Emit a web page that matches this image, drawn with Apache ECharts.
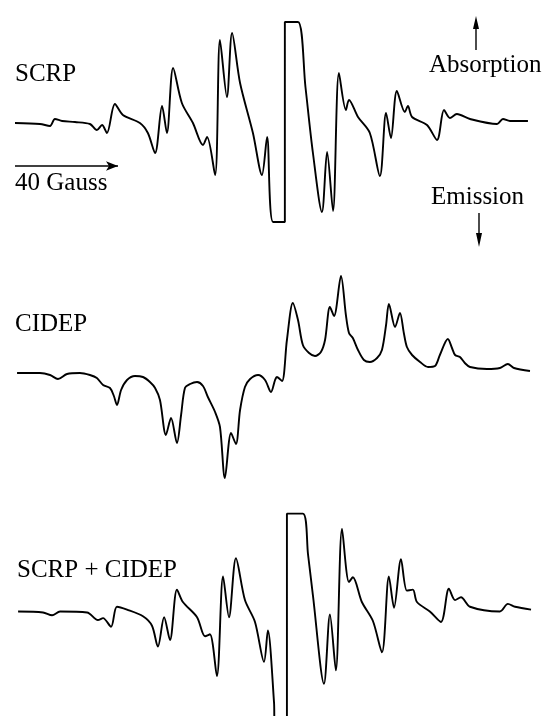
<!DOCTYPE html>
<html>
<head>
<meta charset="utf-8">
<script src="https://cdn.jsdelivr.net/npm/echarts@6/dist/echarts.min.js"></script>
<style>
  html, body { margin: 0; padding: 0; background: #fff; }
  #chart { width: 545px; height: 716px; }
</style>
</head>
<body>
<div id="chart"></div>
<script>
// field in Gauss, intensity in arbitrary units (positive = absorption)
const scrpField = [0, 9.7, 13.6, 15.5, 18.3, 23.3, 29.1, 31.8, 33.8, 35.7, 38.8, 41.9, 48.5, 51.6, 54.4, 57.1, 59.0, 61.4, 64.8, 69.1, 73.0, 74.6, 77.7, 79.6, 82.3, 84.3, 87.4, 92.4, 95.9, 97.9, 100.2, 104.8, 104.8, 109.9, 112.8, 115.7, 119.2, 121.2, 123.5, 125.8, 128.5, 129.7, 133.2, 137.8, 141.7, 144.1, 146.0, 148.3, 151.4, 152.6, 154.2, 160.0, 163.9, 166.6, 168.9, 171.6, 176.7, 187.2, 189.5, 192.2, 199.2];
const scrpValue = [-1, -2, -4, 3, 1, 0, -2, -8, -3, -11, 18, 7, -1, -11, -31, 16, -11, 54, 19, -1, -23, -15, -53, 82, 25, 89, 39, -11, -53, -15, -100, -100, 100, 100, 35, -31, -90, -30, -89, 49, 12, 22, 5, -11, -54, 9, -16, 31, 10, 16, 5, -3, -18, 12, 4, 8, 3, -2, 3, 1, 1];

const cidepField = [0.8, 9.7, 13.6, 16.7, 20.2, 25.2, 29.1, 31.8, 34.2, 36.9, 38.4, 39.6, 41.2, 43.5, 46.6, 49.7, 52.4, 54.4, 56.3, 58.6, 60.6, 62.9, 64.5, 66.0, 68.0, 70.7, 73.0, 74.9, 77.7, 79.6, 81.5, 83.9, 85.8, 87.4, 89.3, 91.3, 94.4, 97.1, 99.4, 101.0, 101.7, 103.7, 105.6, 107.9, 109.9, 111.8, 114.2, 116.5, 118.8, 120.4, 122.3, 123.9, 126.6, 128.5, 129.7, 131.2, 133.2, 135.5, 137.8, 140.6, 142.5, 144.1, 145.2, 147.6, 149.5, 151.0, 152.2, 154.2, 157.3, 160.4, 163.1, 165.0, 168.1, 169.7, 170.9, 172.8, 174.7, 176.7, 183.3, 188.3, 191.4, 193.8, 200.0];
const cidepValue = [0, 0, -2, -6, -1, 0, -2, -5, -12, -15, -23, -32, -17, -7, -3, -4, -9, -15, -27, -62, -45, -70, -42, -15, -11, -9, -13, -24, -39, -54, -105, -60, -71, -37, -14, -6, -2, -7, -19, -7, -4, -8, 33, 70, 53, 28, 20, 17, 21, 33, 66, 57, 97, 58, 40, 35, 23, 13, 11, 15, 23, 48, 69, 46, 60, 40, 26, 18, 11, 6, 7, 18, 34, 25, 18, 16, 10, 6, 4, 5, 9, 5, 2];

const sumField = [1.2, 10.9, 14.4, 17.5, 28.0, 32.2, 34.2, 37.3, 39.6, 43.5, 49.7, 53.2, 55.5, 57.9, 60.2, 62.9, 65.2, 70.7, 73.8, 75.7, 78.4, 80.8, 83.1, 85.8, 89.3, 93.2, 96.7, 98.2, 100.6, 100.8, 105.6, 105.6, 111.8, 113.8, 115.7, 120.0, 122.3, 124.6, 127.0, 129.7, 131.2, 134.7, 139.0, 142.5, 145.2, 147.2, 149.9, 152.2, 154.5, 156.1, 161.1, 165.4, 168.5, 170.9, 173.2, 176.7, 188.3, 191.4, 194.2, 200.4];
const sumValue = [0, -1, -4, 0, -1, -9, -7, -16, 5, 2, -5, -15, -37, -6, -30, 23, 10, -6, -26, -24, -68, 37, -6, 56, 12, -11, -53, -20, -96, -118, -118, 103, 103, 60, 17, -76, -3, -62, 87, 31, 36, 10, -10, -43, 37, 4, 55, 22, 23, 10, 0, -11, 24, 12, 15, 5, 0, 8, 5, 2];

const zip = (xs, ys) => xs.map((x, i) => [x, ys[i]]);

const serif = "'Liberation Serif', 'DejaVu Serif', serif";
const lineStyle = { color: "#000", width: 1.9 };

const chart = echarts.init(document.getElementById("chart"));

function label(text, x, y) {
  return {
    type: "text",
    left: x,
    top: y,
    style: { text: text, fill: "#000", font: "25px " + serif },
  };
}

const spectrum = (name, i, data) => ({
  name: name, type: "line", xAxisIndex: i, yAxisIndex: i,
  data: data, showSymbol: false, lineStyle: lineStyle,
  smooth: 0.3,
});

const option = {
  backgroundColor: "#fff",
  animation: false,
  grid: [
    { left: 15, width: 515, top: 21, height: 202 },
    { left: 15, width: 515, top: 263, height: 220 },
    { left: 15, width: 515, top: 507, height: 220 },
  ],
  xAxis: [0, 1, 2].map((i) => ({
    type: "value", gridIndex: i, min: 0, max: 200, show: false,
  })),
  yAxis: [
    { type: "value", gridIndex: 0, min: -101, max: 101, show: false },
    { type: "value", gridIndex: 1, min: -110, max: 110, show: false },
    { type: "value", gridIndex: 2, min: -110, max: 110, show: false },
  ],
  series: [
    Object.assign(spectrum("SCRP", 0, zip(scrpField, scrpValue)), {
      markLine: {
        silent: true, symbol: ["none", "arrow"], symbolSize: [7, 12],
        label: { show: false },
        lineStyle: { color: "#000", width: 1.6, type: "solid" },
        data: [[{ coord: [0, -44] }, { coord: [40, -44] }]],
      },
    }),
    spectrum("CIDEP", 1, zip(cidepField, cidepValue)),
    spectrum("SCRP + CIDEP", 2, zip(sumField, sumValue)),
  ],
  graphic: [
    label("SCRP", 15, 62),
    label("40 Gauss", 15, 171),
    label("Absorption", 429, 53),
    label("Emission", 431, 185),
    label("CIDEP", 15, 312),
    label("SCRP + CIDEP", 17, 558),
    { type: "line", shape: { x1: 476, y1: 50, x2: 476, y2: 26 }, style: { stroke: "#000", lineWidth: 1.4 } },
    { type: "polygon", shape: { points: [[476, 16], [473, 29], [479, 29]] }, style: { fill: "#000" } },
    { type: "line", shape: { x1: 479, y1: 213, x2: 479, y2: 236 }, style: { stroke: "#000", lineWidth: 1.4 } },
    { type: "polygon", shape: { points: [[479, 247], [476, 233], [482, 233]] }, style: { fill: "#000" } },
  ],
};

chart.setOption(option);
</script>
</body>
</html>
